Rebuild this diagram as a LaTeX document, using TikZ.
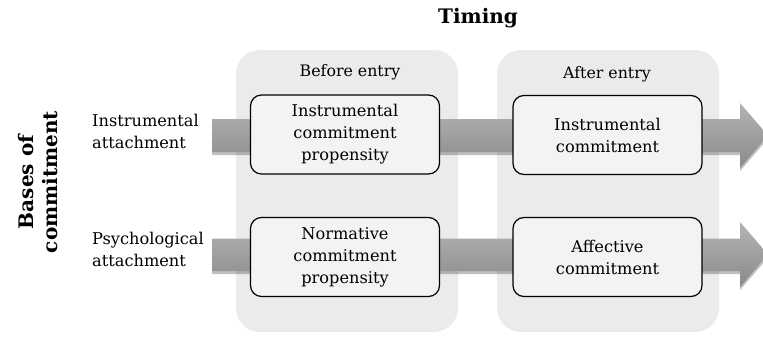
\documentclass[tikz,border=0pt]{standalone}
\usepackage{fontspec}
\setmainfont{DejaVu Serif}
\usetikzlibrary{shadows}
\definecolor{panelgray}{HTML}{EBEBEB}
\definecolor{boxfill}{HTML}{F3F3F3}
\definecolor{bandtop}{HTML}{B4B4B4}
\definecolor{bandbot}{HTML}{8A8A8A}
\begin{document}
\begin{tikzpicture}[x=1pt,y=-1pt,
  panel/.style={fill=panelgray, rounded corners=24pt, minimum width=222pt, minimum height=282pt, inner sep=0pt},
  stagebox/.style={draw=black, line width=1.2pt, fill=boxfill, rounded corners=11pt,
    minimum width=189pt, minimum height=79pt, align=center, inner sep=0pt,
    font=\fontsize{16.2}{22}\selectfont},
  band/.style={top color=bandtop, bottom color=bandbot,
    drop shadow={shadow xshift=0pt, shadow yshift=-3pt, opacity=0.25, fill=black}},
  header/.style={font=\fontsize{15.8}{18}\selectfont},
  sidelabel/.style={anchor=west, align=left, inner sep=0pt, font=\fontsize{16.2}{22}\selectfont},
  heading/.style={font=\bfseries\fontsize{20}{24}\selectfont, align=center, inner sep=0pt}
]
\useasboundingbox (0,0) rectangle (763,340);

% time panels
\node[panel] (before) at (347,191) {};
\node[panel] (after) at (608,191) {};

% title and axis label
\node[heading] (timing) at (478,18) {Timing};
\node[heading, rotate=90] (bases) at (38,182) {Bases of\\commitment};

% panel headers
\node[header] (hbefore) at (350,72) {Before entry};
\node[header] (hafter) at (607,74) {After entry};

% progression bands with arrow heads
\shade[band] (212,119) -- (740,119) -- (740,103) -- (768,135.5) -- (740,168) -- (740,152) -- (212,152) -- cycle;
\shade[band] (212,238.5) -- (740,238.5) -- (740,222) -- (768,254.5) -- (740,287) -- (740,271) -- (212,271) -- cycle;

% row labels
\node[sidelabel] (instr) at (92,131) {Instrumental\\attachment};
\node[sidelabel] (psych) at (92,249) {Psychological\\attachment};

% commitment boxes
\node[stagebox] (icp) at (345,134.5) {Instrumental\\commitment\\propensity};
\node[stagebox] (ic) at (607.5,135) {Instrumental\\commitment};
\node[stagebox] (ncp) at (345,257) {Normative\\commitment\\propensity};
\node[stagebox] (ac) at (607.5,257) {Affective\\commitment};
\end{tikzpicture}
\end{document}
